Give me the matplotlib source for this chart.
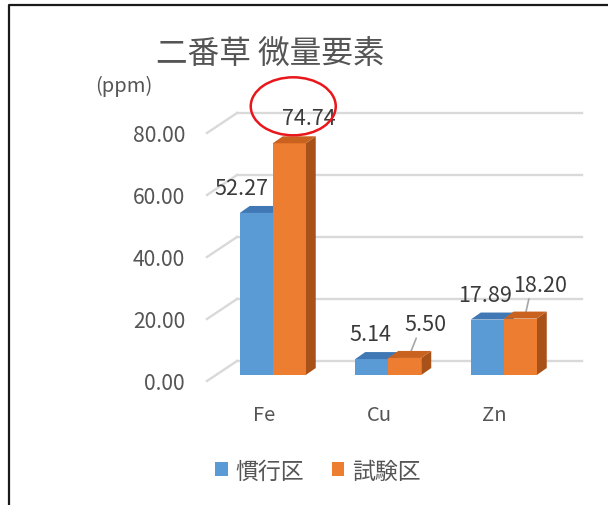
import matplotlib
matplotlib.use("Agg")
import matplotlib.pyplot as plt
from matplotlib.patches import Polygon, Ellipse, Patch
from matplotlib.lines import Line2D

plt.rcParams["font.family"] = ["Noto Sans CJK JP", "DejaVu Sans"]

# data
categories = ["Fe", "Cu", "Zn"]
series_names = ["慣行区", "試験区"]
conventional = [52.27, 5.14, 17.89]
trial = [74.74, 5.50, 18.20]
y_ticks = [0, 20, 40, 60, 80]
title = "二番草 微量要素"
unit = "(ppm)"

BLUE, BLUE_TOP = "#5B9BD5", "#3F78B5"
ORANGE, ORANGE_TOP, ORANGE_SIDE = "#ED7D31", "#C9621F", "#A8521A"
GRID = "#D9D9D9"
TXT = "#555555"
LBL = "#3A3A3A"

W, H = 608, 506
fig = plt.figure(figsize=(W / 100, H / 100), dpi=100)

# bar plane in pixels (left, bottom-from-top, width, height)
ax_l, ax_b, ax_w, ax_h = 215, 376, 346.5, 248
ax = fig.add_axes([ax_l / W, (H - ax_b) / H, ax_w / W, ax_h / H])
ax.set_xlim(-0.5, 2.5)
ax.set_ylim(0, 80)
ax.axis("off")
ppx = ax_w / 3.0      # pixels per x unit
ppy = ax_h / 80.0     # pixels per y unit

# back wall gridlines + diagonal from front
for v in y_ticks:
    ax.plot([-0.5 + 22 / ppx, 2.5 + 20 / ppx], [v + 14 / ppy] * 2,
            color=GRID, lw=1.7, clip_on=False, zorder=1)
    ax.plot([-0.5 - 8 / ppx, -0.5 + 22 / ppx],
            [v - 6 / ppy, v + 14 / ppy],
            color=GRID, lw=1.7, clip_on=False, zorder=1)
    ax.text(-0.5 - 30 / ppx, v - 8 / ppy, f"{v:.2f}", ha="right",
            va="center", fontsize=15.2, color=TXT)

# 3D-ish bars
bw = 33 / ppx
ddx, ddy = 10 / ppx, 7 / ppy
x = list(range(len(categories)))


def bar3d(xc, h, front, top, side):
    x0, x1 = xc - bw / 2, xc + bw / 2
    ax.add_patch(Polygon([(x1, 0), (x1, h), (x1 + ddx, h + ddy),
                          (x1 + ddx, ddy)], closed=True, fc=side,
                         ec="none", zorder=3))
    ax.add_patch(Polygon([(x0, 0), (x1, 0), (x1, h), (x0, h)],
                         closed=True, fc=front, ec="none", zorder=4))
    ax.add_patch(Polygon([(x0, h), (x1, h), (x1 + ddx, h + ddy),
                          (x0 + ddx, h + ddy)], closed=True, fc=top,
                         ec="none", zorder=4))


for i in x:
    bar3d(i - bw / 2, conventional[i], BLUE, BLUE_TOP, BLUE_TOP)
    bar3d(i + bw / 2, trial[i], ORANGE, ORANGE_TOP, ORANGE_SIDE)

# data labels
blue_off = [(-15, 25), (-1, 25), (-2, 25)]
orange_off = [(20, 25), (16, 30), (15, 30)]
for i in x:
    ax.annotate(f"{conventional[i]:.2f}", (i - bw / 2, conventional[i]),
                xytext=blue_off[i], textcoords="offset pixels",
                ha="center", va="center", fontsize=15.5, color=LBL,
                annotation_clip=False)
    if i == 0:
        ax.annotate(f"{trial[i]:.2f}", (i + bw / 2, trial[i]),
                    xytext=orange_off[i], textcoords="offset pixels",
                    ha="center", va="center", fontsize=15.5, color=LBL,
                    annotation_clip=False)
    else:
        ax.annotate(f"{trial[i]:.2f}",
                    (i + bw / 2 + ddx / 2, trial[i] + ddy / 2),
                    xytext=orange_off[i], textcoords="offset pixels",
                    ha="center", va="center", fontsize=15.5, color=LBL,
                    annotation_clip=False,
                    arrowprops=dict(arrowstyle="-", color="#A6A6A6",
                                    lw=1.2, shrinkA=0, shrinkB=0,
                                    relpos=(0.3, 0.0)))

# category labels
for i in x:
    ax.text(i - 9 / ppx, -40 / ppy, categories[i], ha="center",
            va="center", fontsize=14.5, color=TXT)

# red highlight ellipse around the max value
imax = trial.index(max(trial))
ax.add_patch(Ellipse((imax + bw / 2 + 4 / ppx, max(trial) + 37 / ppy),
                     85 / ppx, 58 / ppy, fill=False, ec="#E8171C",
                     lw=1.8, clip_on=False, zorder=6))

# title, unit
fig.text(270 / W, 1 - 55 / H, title, ha="center", va="center",
         fontsize=22.8, color=TXT)
fig.text(124 / W, 1 - 86 / H, unit, ha="center", va="center",
         fontsize=14.5, color=TXT)

# legend
handles = [Patch(fc=BLUE, ec="none"), Patch(fc=ORANGE, ec="none")]
fig.legend(handles, series_names, loc="center",
           bbox_to_anchor=(318 / W, 1 - 472 / H), ncol=2, frameon=False,
           fontsize=16.5, handlelength=0.55, handleheight=0.55,
           handletextpad=0.35, columnspacing=1.2, labelcolor=TXT)

# outer border (left and top edges)
fig.add_artist(Line2D([8.5 / W, 8.5 / W, 1], [0, 1 - 5.5 / H, 1 - 5.5 / H],
                      transform=fig.transFigure, color="#1A1A1A", lw=1.6))

fig.savefig("out.png", dpi=100)
